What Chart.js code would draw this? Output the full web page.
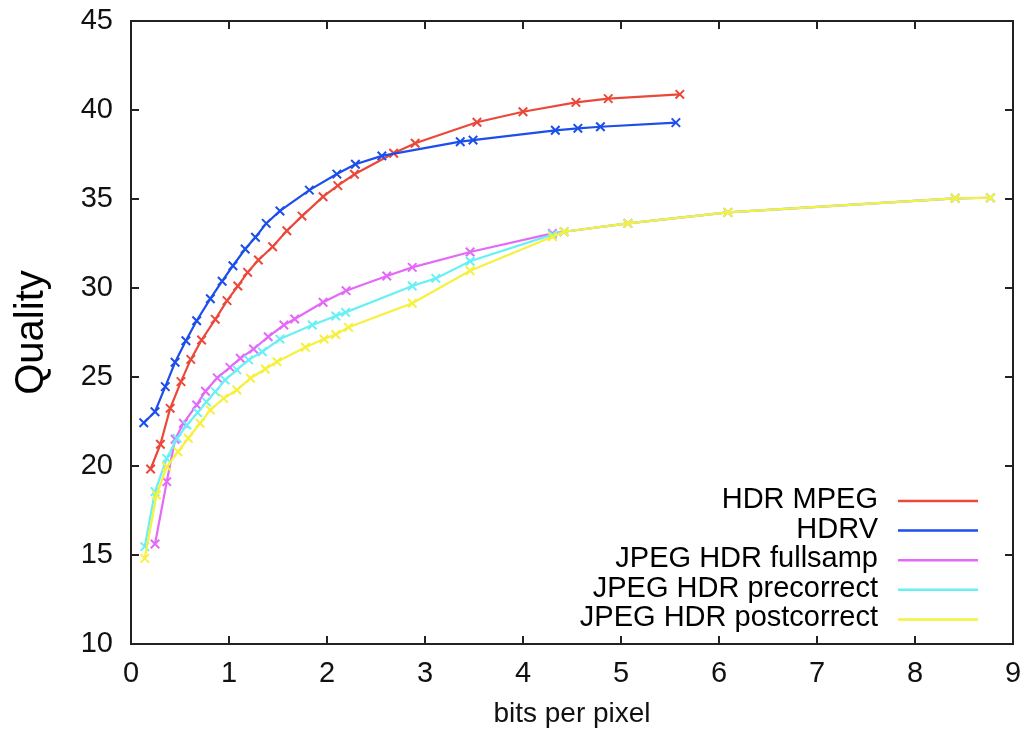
<!DOCTYPE html>
<html>
<head>
<meta charset="utf-8">
<script src="https://cdn.jsdelivr.net/npm/chart.js@4.4.1/dist/chart.umd.min.js"></script>
<style>
html, body { margin: 0; padding: 0; background: #fff; }
</style>
</head>
<body>
<canvas id="chart" width="1024" height="734"></canvas>
<script>
const seriesNames = ['HDR MPEG', 'HDRV', 'JPEG HDR fullsamp', 'JPEG HDR precorrect', 'JPEG HDR postcorrect'];
const seriesColors = ['rgb(235,72,58)', 'rgb(28,78,235)', 'rgb(228,105,248)', 'rgb(105,240,245)', 'rgb(246,240,62)'];

const xTicks = [0, 1, 2, 3, 4, 5, 6, 7, 8, 9];
const yTicks = [10, 15, 20, 25, 30, 35, 40, 45];

// HDR MPEG
const mpegBpp = [0.20, 0.30, 0.40, 0.51, 0.61, 0.72, 0.86, 0.98, 1.09, 1.19, 1.30, 1.445, 1.59, 1.745, 1.96, 2.11, 2.28, 2.68, 2.90, 3.53, 4.00, 4.54, 4.87, 5.60];
const mpegQuality = [19.83, 21.22, 23.24, 24.74, 25.99, 27.08, 28.24, 29.29, 30.11, 30.88, 31.57, 32.32, 33.22, 34.04, 35.13, 35.75, 36.39, 37.57, 38.13, 39.31, 39.90, 40.43, 40.64, 40.88];

// HDRV
const hdrvBpp = [0.13, 0.245, 0.35, 0.45, 0.56, 0.67, 0.81, 0.93, 1.04, 1.165, 1.27, 1.38, 1.52, 1.82, 2.10, 2.29, 2.56, 3.36, 3.49, 4.33, 4.56, 4.79, 5.56];
const hdrvQuality = [22.43, 23.05, 24.46, 25.83, 27.04, 28.16, 29.40, 30.38, 31.25, 32.19, 32.85, 33.63, 34.33, 35.50, 36.40, 36.95, 37.42, 38.22, 38.31, 38.86, 38.97, 39.06, 39.29];

// JPEG HDR fullsamp
const fullBpp = [0.245, 0.365, 0.45, 0.535, 0.67, 0.76, 0.88, 1.01, 1.115, 1.25, 1.40, 1.56, 1.67, 1.96, 2.195, 2.61, 2.87, 3.46, 4.30, 4.42, 5.07, 6.09, 8.41, 8.77];
const fullQuality = [15.62, 19.12, 21.5, 22.4, 23.43, 24.2, 24.95, 25.54, 26.05, 26.57, 27.26, 27.92, 28.26, 29.20, 29.85, 30.67, 31.16, 32.02, 33.07, 33.16, 33.63, 34.25, 35.04, 35.07];

// JPEG HDR precorrect
const preBpp = [0.14, 0.245, 0.365, 0.47, 0.57, 0.68, 0.77, 0.86, 0.96, 1.08, 1.20, 1.34, 1.52, 1.85, 2.09, 2.19, 2.87, 3.11, 3.46, 4.30, 4.42, 5.07, 6.09, 8.41, 8.77];
const preQuality = [15.47, 18.56, 20.43, 21.55, 22.3, 23.0, 23.6, 24.18, 24.83, 25.4, 25.96, 26.42, 27.13, 27.92, 28.43, 28.63, 30.11, 30.54, 31.50, 33.0, 33.16, 33.63, 34.25, 35.04, 35.07];

// JPEG HDR postcorrect
const postBpp = [0.14, 0.26, 0.365, 0.48, 0.585, 0.705, 0.81, 0.945, 1.08, 1.22, 1.37, 1.49, 1.78, 1.97, 2.09, 2.22, 2.87, 3.46, 4.30, 4.42, 5.07, 6.09, 8.41, 8.77];
const postQuality = [14.81, 18.37, 19.96, 20.80, 21.56, 22.40, 23.15, 23.80, 24.27, 24.93, 25.45, 25.86, 26.67, 27.13, 27.39, 27.79, 29.14, 30.97, 32.88, 33.16, 33.63, 34.25, 35.04, 35.07];

const seriesX = [mpegBpp, hdrvBpp, fullBpp, preBpp, postBpp];
const seriesY = [mpegQuality, hdrvQuality, fullQuality, preQuality, postQuality];

const FONT = '"Liberation Sans", Arial, Helvetica, sans-serif';

// box round the plot with gnuplot style inward ticks, plus the legend
const framePlugin = {
    id: 'frame',
    afterDraw(chart) {
        const ctx = chart.ctx;
        const a = chart.chartArea;
        const xs = chart.scales.x;
        const ys = chart.scales.y;
        ctx.save();
        ctx.strokeStyle = '#222';
        ctx.lineWidth = 2;
        ctx.strokeRect(a.left, a.top, a.right - a.left, a.bottom - a.top);
        ctx.beginPath();
        const len = 8;
        xTicks.forEach(v => {
            const px = xs.getPixelForValue(v);
            ctx.moveTo(px, a.bottom); ctx.lineTo(px, a.bottom - len);
            ctx.moveTo(px, a.top); ctx.lineTo(px, a.top + len);
        });
        yTicks.forEach(v => {
            const py = ys.getPixelForValue(v);
            ctx.moveTo(a.left, py); ctx.lineTo(a.left + len, py);
            ctx.moveTo(a.right, py); ctx.lineTo(a.right - len, py);
        });
        ctx.stroke();

        // legend
        ctx.font = '29px ' + FONT;
        ctx.textAlign = 'right';
        ctx.textBaseline = 'middle';
        ctx.lineWidth = 2.5;
        seriesNames.forEach((name, i) => {
            const y = 500 + i * 29.6;
            ctx.fillStyle = '#000';
            ctx.fillText(name, 878, y);
            ctx.strokeStyle = seriesColors[i];
            ctx.beginPath();
            ctx.moveTo(898, y + 1);
            ctx.lineTo(978, y + 1);
            ctx.stroke();
        });
        ctx.restore();
    }
};

const datasets = seriesNames.map((name, i) => ({
    label: name,
    data: seriesX[i].map((x, j) => ({ x: x, y: seriesY[i][j] })),
    borderColor: seriesColors[i],
    backgroundColor: seriesColors[i],
    borderWidth: 2.2,
    pointStyle: 'crossRot',
    pointRadius: 6,
    pointBorderWidth: 2,
    pointBorderColor: seriesColors[i],
    tension: 0,
    fill: false,
    order: seriesNames.length - i
}));

new Chart(document.getElementById('chart').getContext('2d'), {
    type: 'line',
    data: { datasets: datasets },
    options: {
        responsive: false,
        animation: false,
        layout: { padding: { top: 21, right: 11, bottom: 0, left: 0 } },
        plugins: {
            legend: { display: false },
            tooltip: { enabled: false }
        },
        scales: {
            x: {
                type: 'linear',
                min: 0,
                max: 9,
                afterFit: scale => {
                    scale.height = 90;
                    scale.paddingLeft = 0;
                    scale.paddingRight = 0;
                },
                afterBuildTicks: scale => { scale.ticks = xTicks.map(v => ({ value: v })); },
                grid: { display: false, drawTicks: false },
                border: { display: false },
                ticks: {
                    padding: 13,
                    color: '#111',
                    font: { family: FONT, size: 29 }
                },
                title: {
                    display: true,
                    text: 'bits per pixel',
                    color: '#111',
                    font: { family: FONT, size: 28 },
                    padding: { top: 0, bottom: 3 }
                }
            },
            y: {
                type: 'linear',
                min: 10,
                max: 45,
                afterFit: scale => {
                    scale.width = 131;
                    scale.paddingTop = 0;
                    scale.paddingBottom = 0;
                },
                afterBuildTicks: scale => { scale.ticks = yTicks.map(v => ({ value: v })); },
                grid: { display: false, drawTicks: false },
                border: { display: false },
                ticks: {
                    padding: 18,
                    color: '#111',
                    font: { family: FONT, size: 29 }
                },
                title: {
                    display: true,
                    text: 'Quality',
                    color: '#000',
                    font: { family: FONT, size: 40 },
                    padding: { top: 8, bottom: 0 }
                }
            }
        }
    },
    plugins: [framePlugin]
});
</script>
</body>
</html>
